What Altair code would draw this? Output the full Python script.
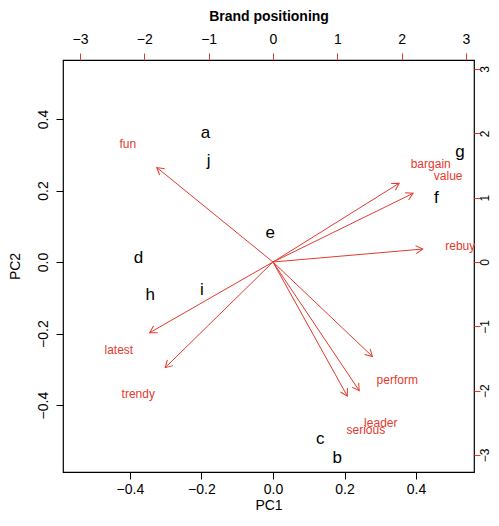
import altair as alt
import pandas as pd

# Brand scores on the first two principal components
brands = ["a", "b", "c", "d", "e", "f", "g", "h", "i", "j"]
pc1 = [-0.189, 0.180, 0.132, -0.376, -0.008, 0.457, 0.523, -0.343, -0.199, -0.180]
pc2 = [0.362, -0.549, -0.494, 0.012, 0.081, 0.179, 0.307, -0.093, -0.079, 0.282]

# Attribute loadings (label positions, top/right axis scale)
attributes = ["perform", "leader", "latest", "fun", "serious", "bargain", "value", "trendy", "rebuy"]
load1 = [1.932, 1.676, -2.396, -2.257, 1.444, 2.452, 2.723, -2.094, 2.911]
load2 = [-1.835, -2.500, -1.374, 1.836, -2.605, 1.530, 1.335, -2.052, 0.252]

pc_ticks = [-0.4, -0.2, 0.0, 0.2, 0.4]
load_ticks = [-3, -2, -1, 0, 1, 2, 3]
pc_domain_x = [-0.587, 0.562]
pc_domain_y = [-0.587, 0.565]
load_domain_x = [-3.264, 3.125]
load_domain_y = [-3.264, 3.140]

RED = "#e5392e"
FONT = "Liberation Sans"

scores = pd.DataFrame({"brand": brands, "PC1": pc1, "PC2": pc2})
loads = pd.DataFrame({"attr": attributes, "l1": load1, "l2": load2})

xs = alt.Scale(domain=pc_domain_x, nice=False, zero=False)
ys = alt.Scale(domain=pc_domain_y, nice=False, zero=False)
lxs = alt.Scale(domain=load_domain_x, nice=False, zero=False)
lys = alt.Scale(domain=load_domain_y, nice=False, zero=False)

points = alt.Chart(scores).mark_text(
    font=FONT, fontSize=17, color="black", align="center", baseline="middle"
).encode(
    x=alt.X("PC1:Q", scale=xs, axis=alt.Axis(
        orient="bottom", values=pc_ticks, format=".1f", title="PC1",
        tickColor="black", labelPadding=3, titlePadding=2)),
    y=alt.Y("PC2:Q", scale=ys, axis=alt.Axis(
        orient="left", values=pc_ticks, format=".1f", title="PC2",
        tickColor="black", labelAngle=270, labelAlign="center",
        labelBaseline="bottom", labelPadding=6, titlePadding=14)),
    text="brand:N",
)

base = alt.Chart(loads).transform_calculate(
    ax="0.8*datum.l1", ay="0.8*datum.l2", x0="0", y0="0",
    ang="(atan2(datum.l1, datum.l2)*180/PI + 360) % 360",
)

top_axis = alt.Axis(orient="top", values=load_ticks, format="d",
                    title="Brand positioning", titleFontWeight="bold",
                    tickColor=RED, labelPadding=7, titlePadding=9)
right_axis = alt.Axis(orient="right", values=load_ticks, format="d", title=None,
                      tickColor=RED, tickSize=6, labelAngle=270, labelAlign="center",
                      labelBaseline="middle", labelPadding=4, labelFontSize=12)

shafts = base.mark_rule(color=RED, strokeWidth=1).encode(
    x=alt.X("x0:Q", scale=lxs, axis=top_axis),
    y=alt.Y("y0:Q", scale=lys, axis=right_axis),
    x2="ax:Q",
    y2="ay:Q",
)

heads = base.mark_point(
    shape="M-0.5,0.866L0,0L0.5,0.866", size=256, filled=False,
    stroke=RED, strokeWidth=1, opacity=1,
).encode(
    x=alt.X("ax:Q", scale=lxs),
    y=alt.Y("ay:Q", scale=lys),
    angle=alt.Angle("ang:Q", scale=None),
)

labels = base.mark_text(
    font=FONT, fontSize=12, color=RED, align="center", baseline="middle"
).encode(
    x=alt.X("l1:Q", scale=lxs),
    y=alt.Y("l2:Q", scale=lys),
    text="attr:N",
)

loadings = alt.layer(shafts, heads, labels)

chart = alt.layer(points, loadings).resolve_scale(
    x="independent", y="independent"
).properties(
    width=411, height=412,
    autosize=alt.AutoSizeParams(type="none"),
    padding={"left": 55, "top": 52, "right": 17, "bottom": 42},
).configure_view(
    stroke="black", strokeWidth=1.2
).configure_axis(
    grid=False, domain=False, tickSize=7, tickWidth=1,
    labelFont=FONT, labelFontSize=14, labelColor="black",
    titleFont=FONT, titleFontSize=14, titleFontWeight="normal", titleColor="black",
)

chart.save("out.html", embed_options={"renderer": "svg", "actions": False})
